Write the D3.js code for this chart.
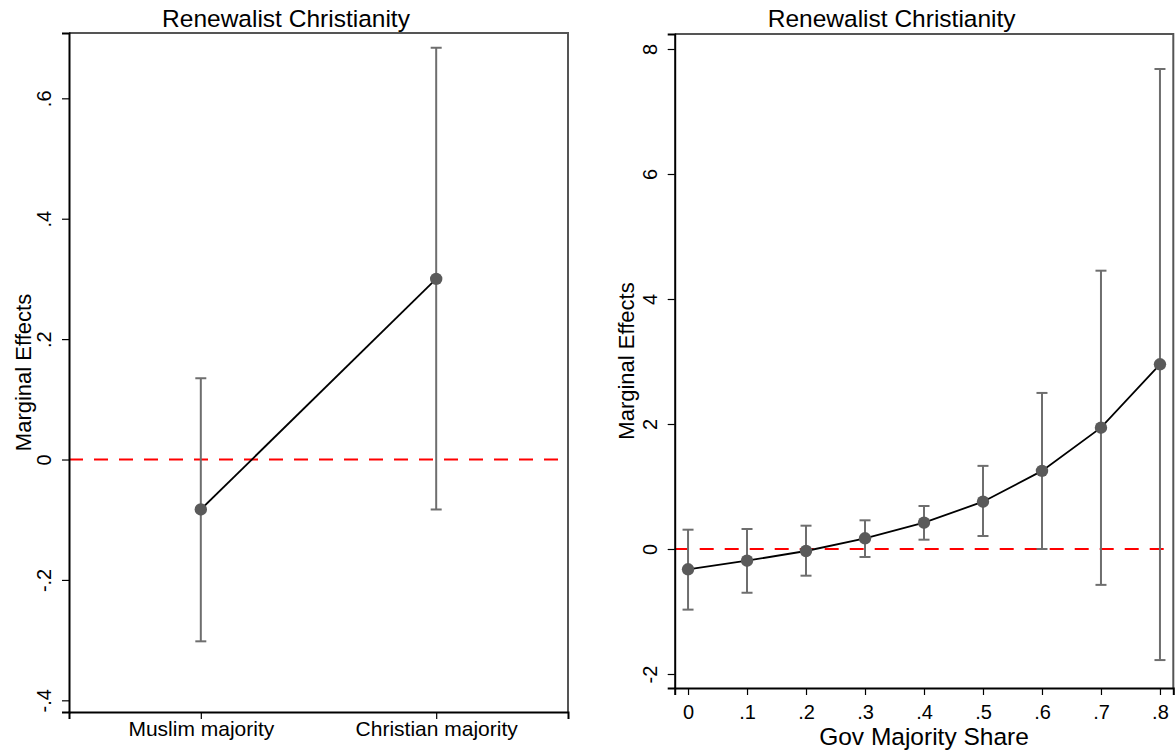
<!DOCTYPE html>
<html>
<head>
<meta charset="utf-8">
<script src="https://cdn.jsdelivr.net/npm/d3@7"></script>
<style>
  body { margin: 0; background: #fff; }
  svg { font-family: "Liberation Sans", Arial, Helvetica, sans-serif; }
</style>
</head>
<body>
<div id="chart"></div>
<script>
// marginal effects, two panels

var titleText = "Renewalist Christianity",
    yTitle = "Marginal Effects";

// left panel: categorical
var catLabels = ["Muslim majority", "Christian majority"],
    catEst = [-0.083, 0.300],
    catLo  = [-0.302, -0.083],
    catHi  = [0.135, 0.684],
    leftTicks = [-0.4, -0.2, 0, 0.2, 0.4, 0.6],
    leftTickLabels = ["-.4", "-.2", "0", ".2", ".4", ".6"];

// right panel: continuous
var shareX = [0, 0.1, 0.2, 0.3, 0.4, 0.5, 0.6, 0.7, 0.8],
    shareLabels = ["0", ".1", ".2", ".3", ".4", ".5", ".6", ".7", ".8"],
    shareEst = [-0.325, -0.187, -0.032, 0.171, 0.421, 0.757, 1.250, 1.941, 2.955],
    shareLo  = [-0.970, -0.700, -0.427, -0.128, 0.149, 0.208, 0.000, -0.574, -1.777],
    shareHi  = [0.309, 0.320, 0.373, 0.459, 0.688, 1.330, 2.497, 4.453, 7.680],
    rightTicks = [-2, 0, 2, 4, 6, 8],
    rightTickLabels = ["-2", "0", "2", "4", "6", "8"];

var width = 1176, height = 753;

var svg = d3.select("#chart").append("svg")
    .attr("width", width)
    .attr("height", height);

var dotColor = "#5a5a5a",
    barColor = "#6e6e6e",
    capHalf = 5.5;

function panel(opt) {
  var g = svg.append("g");
  var x = opt.x, y = opt.y;
  var x0 = x.range()[0], x1 = x.range()[1],
      y0 = y.range()[0], y1 = y.range()[1];

  // border top/right (gray)
  g.append("path")
    .attr("d", "M" + x0 + "," + y1 + "H" + x1 + "V" + y0)
    .attr("fill", "none")
    .attr("stroke", "#555")
    .attr("stroke-width", 2);

  // zero reference line
  g.append("line")
    .attr("x1", x0).attr("x2", x1)
    .attr("y1", y(0)).attr("y2", y(0))
    .attr("stroke", "#ff0000")
    .attr("stroke-width", 2)
    .attr("stroke-dasharray", "14,11");

  // y axis
  var yAxis = d3.axisLeft(y)
      .tickValues(opt.yTicks)
      .tickFormat(function(d, i) { return opt.yTickLabels[i]; })
      .tickSize(7)
      .tickPadding(0);
  var ya = g.append("g")
      .attr("transform", "translate(" + x0 + ",0)")
      .call(yAxis);
  ya.attr("font-family", null).attr("font-size", null);
  ya.select(".domain").attr("stroke", "#000").attr("stroke-width", 2);
  ya.selectAll(".tick line").attr("stroke", "#000").attr("stroke-width", 1.2);
  ya.selectAll(".tick text")
      .attr("transform", "rotate(-90)")
      .attr("x", 0).attr("y", -18).attr("dy", 0)
      .attr("text-anchor", "middle")
      .attr("fill", "#000")
      .style("font-size", "20px");

  // x axis
  var xAxis = d3.axisBottom(x)
      .tickValues(opt.xTicks)
      .tickFormat(function(d, i) { return opt.xTickLabels[i]; })
      .tickSize(7)
      .tickPadding(0);
  var xa = g.append("g")
      .attr("transform", "translate(0," + y0 + ")")
      .call(xAxis);
  xa.attr("font-family", null).attr("font-size", null);
  xa.select(".domain").attr("stroke", "#000").attr("stroke-width", 2);
  xa.selectAll(".tick line").attr("stroke", "#000").attr("stroke-width", 1.2);
  xa.selectAll(".tick text")
      .attr("y", opt.xLabelBase).attr("dy", 0)
      .attr("fill", "#000")
      .style("font-size", opt.xLabelSize);

  // title
  g.append("text")
    .attr("x", x0 + 217).attr("y", 26.5)
    .attr("text-anchor", "middle")
    .style("font-size", "24.5px")
    .text(titleText);

  // y title
  g.append("text")
    .attr("transform", "translate(" + opt.yTitleX + "," + ((y0 + y1) / 2) + ") rotate(-90)")
    .attr("text-anchor", "middle")
    .style("font-size", "22px")
    .text(yTitle);

  if (opt.xTitle) {
    g.append("text")
      .attr("x", (x0 + x1) / 2).attr("y", 745)
      .attr("text-anchor", "middle")
      .style("font-size", "24.5px")
      .text(opt.xTitle);
  }

  var pts = opt.xs.map(function(d, i) {
    return {x: d, est: opt.est[i], lo: opt.lo[i], hi: opt.hi[i]};
  });

  // error bars
  var eb = g.append("g").attr("stroke", barColor).attr("stroke-width", 2).attr("fill", "none");
  pts.forEach(function(p) {
    var cx = x(p.x);
    eb.append("line").attr("x1", cx).attr("x2", cx).attr("y1", y(p.lo)).attr("y2", y(p.hi));
    eb.append("line").attr("x1", cx - capHalf).attr("x2", cx + capHalf).attr("y1", y(p.lo)).attr("y2", y(p.lo));
    eb.append("line").attr("x1", cx - capHalf).attr("x2", cx + capHalf).attr("y1", y(p.hi)).attr("y2", y(p.hi));
  });

  // connecting line
  var line = d3.line()
      .x(function(d) { return x(d.x); })
      .y(function(d) { return y(d.est); });
  g.append("path")
    .datum(pts)
    .attr("d", line)
    .attr("fill", "none")
    .attr("stroke", "#000")
    .attr("stroke-width", 1.8);

  g.selectAll("circle.pt")
    .data(pts)
    .enter().append("circle")
    .attr("class", "pt")
    .attr("cx", function(d) { return x(d.x); })
    .attr("cy", function(d) { return y(d.est); })
    .attr("r", 6.2)
    .attr("fill", dotColor);
}

// left
panel({
  x: d3.scaleLinear().domain([-0.56, 1.56]).range([69, 568]),
  y: d3.scaleLinear().domain([-0.4194, 0.7085]).range([712, 33]),
  xs: [0, 1],
  est: catEst, lo: catLo, hi: catHi,
  xTicks: [0, 1], xTickLabels: catLabels,
  xLabelBase: 24, xLabelSize: "21px",
  yTicks: leftTicks, yTickLabels: leftTickLabels,
  yTitleX: 31
});

// right
panel({
  x: d3.scaleLinear().domain([-0.0226, 0.8226]).range([674.7, 1173.3]),
  y: d3.scaleLinear().domain([-2.224, 8.24]).range([688, 34]),
  xs: shareX,
  est: shareEst, lo: shareLo, hi: shareHi,
  xTicks: shareX, xTickLabels: shareLabels,
  xLabelBase: 31, xLabelSize: "20px",
  yTicks: rightTicks, yTickLabels: rightTickLabels,
  yTitleX: 634,
  xTitle: "Gov Majority Share"
});
</script>
</body>
</html>
